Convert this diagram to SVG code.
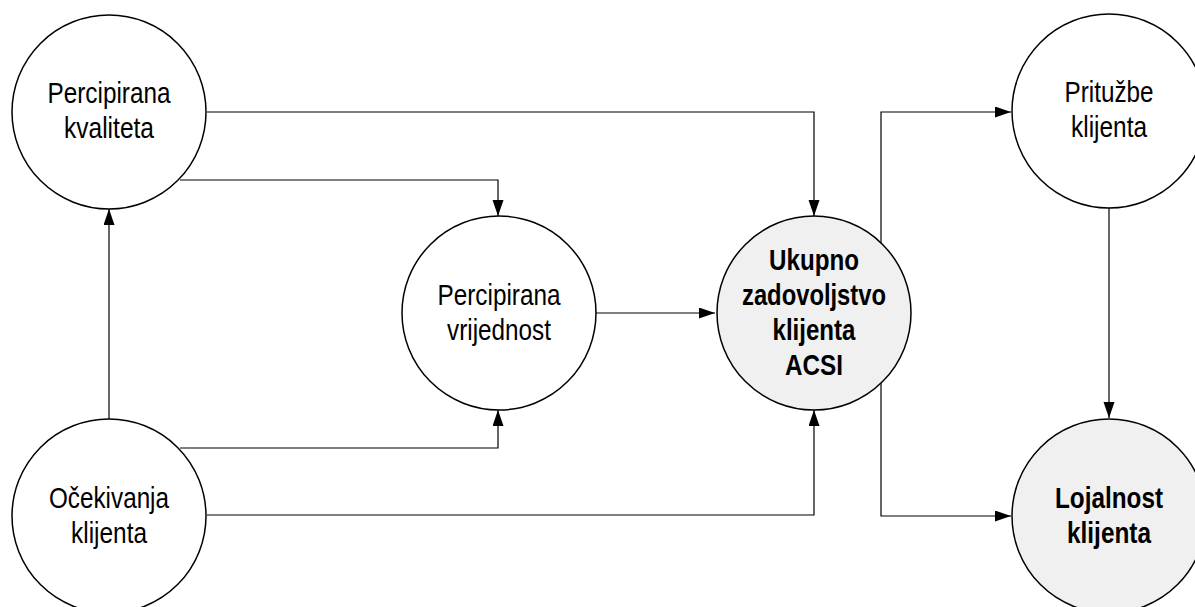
<svg xmlns="http://www.w3.org/2000/svg" width="1195" height="607" viewBox="0 0 1195 607">
<style>
.node{fill:#fff;stroke:#000;stroke-width:1.5}
.hl{fill:#f0f0f0}
.t{font-family:"Liberation Sans",Arial,sans-serif;font-size:30px;text-anchor:middle;fill:#000}
.b{font-weight:bold}
.c{fill:none;stroke:#000;stroke-width:1.2}
</style>
<defs>
<marker id="arr" markerUnits="userSpaceOnUse" markerWidth="17" markerHeight="12" refX="16" refY="5.5" orient="auto">
<path d="M0,0 L16,5.5 L0,11 z" fill="#000"/>
</marker>
</defs>
<g id="connectors">
<path class="c" d="M207,112 H814 V216" marker-end="url(#arr)"/>
<path class="c" d="M180,180 H498 V216" marker-end="url(#arr)"/>
<path class="c" d="M109,419 V209" marker-end="url(#arr)"/>
<path class="c" d="M180,448 H498 V410" marker-end="url(#arr)"/>
<path class="c" d="M207,515 H814 V410" marker-end="url(#arr)"/>
<path class="c" d="M596,313 H715" marker-end="url(#arr)"/>
<path class="c" d="M881,300 V112 H1011" marker-end="url(#arr)"/>
<path class="c" d="M881,300 V516 H1011" marker-end="url(#arr)"/>
<path class="c" d="M1109,208 V418" marker-end="url(#arr)"/>
</g>
<g id="percipirana-kvaliteta">
<circle class="node" cx="109" cy="112" r="97"/>
<text class="t" x="109" y="103" textLength="123" lengthAdjust="spacingAndGlyphs">Percipirana</text>
<text class="t" x="109" y="138" textLength="90" lengthAdjust="spacingAndGlyphs">kvaliteta</text>
</g>
<g id="percipirana-vrijednost">
<circle class="node" cx="499" cy="313" r="97"/>
<text class="t" x="499" y="305" textLength="123" lengthAdjust="spacingAndGlyphs">Percipirana</text>
<text class="t" x="499" y="340" textLength="104" lengthAdjust="spacingAndGlyphs">vrijednost</text>
</g>
<g id="ukupno-zadovoljstvo">
<circle class="node hl" cx="814" cy="313" r="97"/>
<text class="t b" x="814" y="270" textLength="90" lengthAdjust="spacingAndGlyphs">Ukupno</text>
<text class="t b" x="814" y="305" textLength="144" lengthAdjust="spacingAndGlyphs">zadovoljstvo</text>
<text class="t b" x="814" y="340" textLength="83" lengthAdjust="spacingAndGlyphs">klijenta</text>
<text class="t b" x="814" y="375" textLength="58" lengthAdjust="spacingAndGlyphs">ACSI</text>
</g>
<g id="prituzbe-klijenta">
<circle class="node" cx="1109" cy="111" r="97"/>
<text class="t" x="1109" y="102" textLength="89" lengthAdjust="spacingAndGlyphs">Pritužbe</text>
<text class="t" x="1109" y="137" textLength="76" lengthAdjust="spacingAndGlyphs">klijenta</text>
</g>
<g id="ocekivanja-klijenta">
<circle class="node" cx="109" cy="516" r="97"/>
<text class="t" x="109" y="508" textLength="120" lengthAdjust="spacingAndGlyphs">Očekivanja</text>
<text class="t" x="109" y="543" textLength="76" lengthAdjust="spacingAndGlyphs">klijenta</text>
</g>
<g id="lojalnost-klijenta">
<circle class="node hl" cx="1109" cy="516" r="97"/>
<text class="t b" x="1109" y="508" textLength="108" lengthAdjust="spacingAndGlyphs">Lojalnost</text>
<text class="t b" x="1109" y="543" textLength="84" lengthAdjust="spacingAndGlyphs">klijenta</text>
</g>
</svg>
